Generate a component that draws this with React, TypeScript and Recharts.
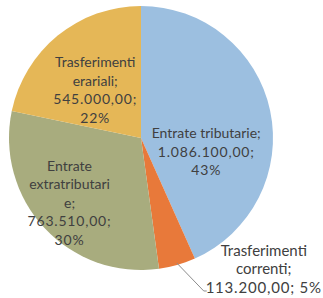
import React from 'react';
import { PieChart, Pie, Cell } from 'recharts';

// Entrate by source
const categories = ['Entrate tributarie', 'Trasferimenti correnti', 'Entrate extratributarie', 'Trasferimenti erariali'];
const values = [1086100, 113200, 763510, 545000];
const valueLabels = ['1.086.100,00', '113.200,00', '763.510,00', '545.000,00'];
const percentLabels = ['43%', '5%', '30%', '22%'];
// how each label wraps in the original
const labelLines = [
  ['Entrate tributarie;', '1.086.100,00;', '43%'],
  ['Trasferimenti', 'correnti;', '113.200,00; 5%'],
  ['Entrate', 'extratributari', 'e;', '763.510,00;', '30%'],
  ['Trasferimenti', 'erariali;', '545.000,00;', '22%'],
];

const COLORS = ['#9cbfe0', '#e8793a', '#a8ac7e', '#e5b757'];

// label placement: fraction of radius along the mid angle, plus nudge
const LABEL_POS = [
  { f: 0.49, dx: 2, dy: 27 },
  { f: 1, dx: 0, dy: 0 },
  { f: 0.72, dx: -2, dy: 0 },
  { f: 0.49, dx: -5, dy: 2 },
];

const LINE_H = 18.5;
const RAD = Math.PI / 180;

const chartData = categories.map((name, i) => ({
  name,
  value: values[i],
  valueLabel: valueLabels[i],
  percentLabel: percentLabels[i],
}));

// digits are wider in the original font
const spacing = (l: string) => (/\d/.test(l) ? 0.8 : 0);

const renderLabel = (props: any) => {
  const { cx, cy, midAngle, outerRadius, index } = props;
  const lines = labelLines[index];
  const pos = LABEL_POS[index];
  const cos = Math.cos(-midAngle * RAD);
  const sin = Math.sin(-midAngle * RAD);

  if (index === 1) {
    // outside label with leader line
    const sx = cx + (outerRadius - 2) * cos;
    const sy = cy + (outerRadius - 2) * sin;
    const ex = sx + 27;
    const ey = sy + 28;
    const tx = ex + 60;
    const lastY = ey + 2;
    return (
      <g key={`label-${index}`}>
        <polyline points={`${sx},${sy} ${ex},${ey} ${ex + 3},${ey}`} fill="none" stroke="#8c8c8c" strokeWidth={1} />
        <text x={tx} y={lastY - (lines.length - 1) * LINE_H} textAnchor="middle" fill="#404040" fontSize={15} fontFamily="Lato">
          {lines.map((l, i) => (
            <tspan key={i} x={tx} dy={i === 0 ? 0 : LINE_H} letterSpacing={spacing(l)}>{l}</tspan>
          ))}
        </text>
      </g>
    );
  }

  const x = cx + outerRadius * pos.f * cos + pos.dx;
  const y = cy + outerRadius * pos.f * sin + pos.dy;
  const startY = y - ((lines.length - 1) * LINE_H) / 2 + 5;
  return (
    <text key={`label-${index}`} x={x} y={startY} textAnchor="middle" fill="#404040" fontSize={14} fontFamily="Lato">
      {lines.map((l, i) => (
        <tspan key={i} x={x} dy={i === 0 ? 0 : LINE_H} letterSpacing={spacing(l)}>{l}</tspan>
      ))}
    </text>
  );
};

const App = () => {
  return (
    <div style={{ position: 'absolute', left: 0, top: 0, background: '#fff' }}>
      <PieChart width={323} height={298} margin={{ top: 0, right: 0, bottom: 0, left: 0 }}>
        <Pie
          data={chartData}
          dataKey="value"
          cx={141}
          cy={138}
          outerRadius={132}
          startAngle={90}
          endAngle={-270}
          stroke="none"
          labelLine={false}
          label={renderLabel}
          isAnimationActive={false}
        >
          {chartData.map((entry, index) => (
            <Cell key={`cell-${index}`} fill={COLORS[index]} />
          ))}
        </Pie>
      </PieChart>
    </div>
  );
};

export default App;
